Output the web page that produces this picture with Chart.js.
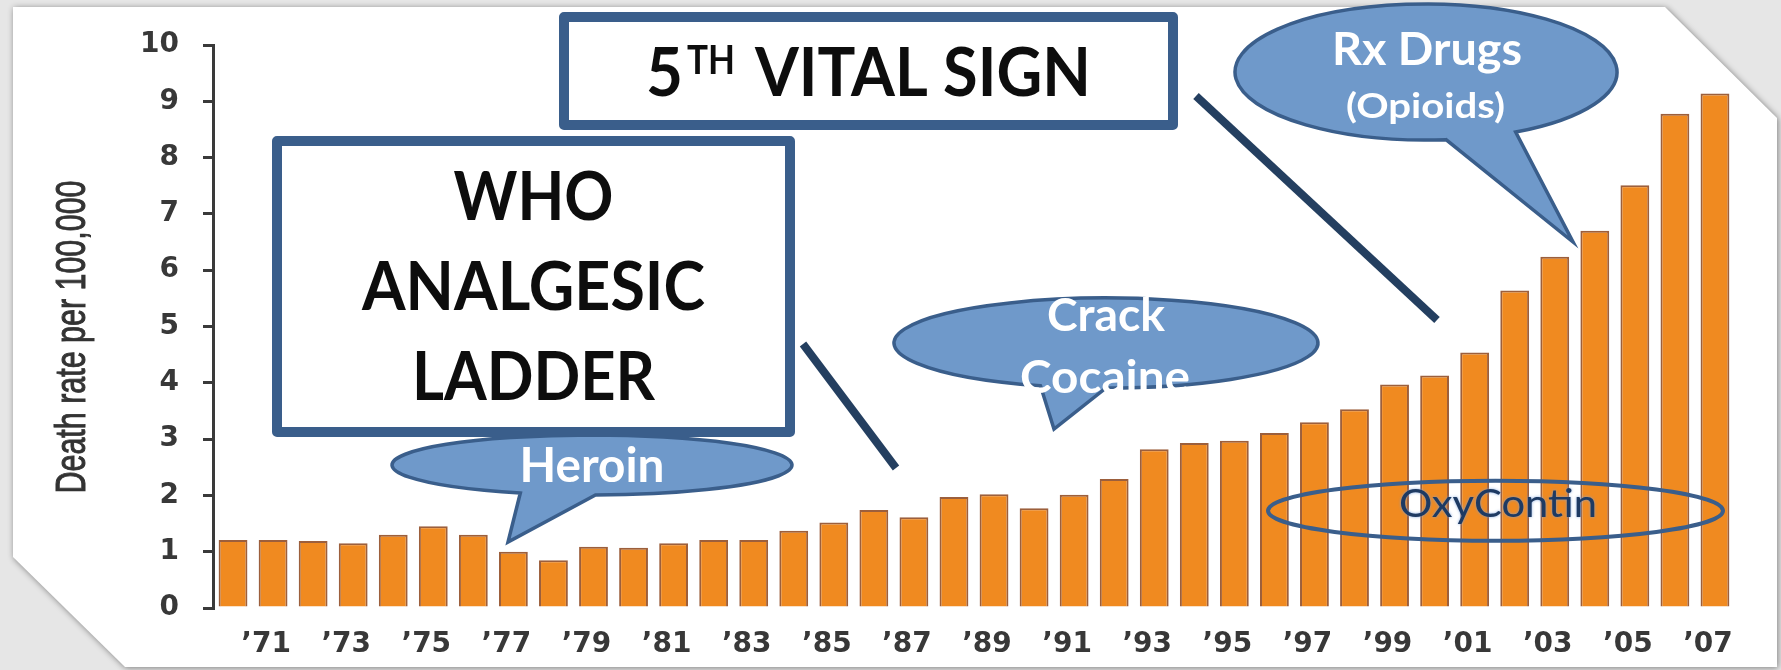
<!DOCTYPE html>
<html>
<head>
<meta charset="utf-8">
<script src="https://cdn.jsdelivr.net/npm/chart.js@4"></script>
<style>
  html, body { margin: 0; padding: 0; background: #e6e6e6; }
  canvas { display: block; }
</style>
</head>
<body>
<canvas id="myChart" width="1781" height="670"></canvas>
<script>
// overdose death rate per 100,000, 1970-2007
const years = ["’70", "’71", "’72", "’73", "’74", "’75", "’76", "’77", "’78", "’79",
  "’80", "’81", "’82", "’83", "’84", "’85", "’86", "’87", "’88", "’89",
  "’90", "’91", "’92", "’93", "’94", "’95", "’96", "’97", "’98", "’99",
  "’00", "’01", "’02", "’03", "’04", "’05", "’06", "’07"];

const deathRate = [1.21, 1.21, 1.19, 1.15, 1.30, 1.45, 1.30, 1.00, 0.85, 1.09,
  1.07, 1.15, 1.21, 1.21, 1.37, 1.52, 1.74, 1.61, 1.97, 2.02,
  1.77, 2.01, 2.29, 2.82, 2.93, 2.97, 3.11, 3.30, 3.53, 3.97,
  4.13, 4.54, 5.64, 6.24, 6.70, 7.51, 8.78, 9.14];

const yTickValues = [0, 1, 2, 3, 4, 5, 6, 7, 8, 9, 10];

const yTitle = "Death rate per 100,000";

const boxBlue = "#3a5e8b";
const calloutFill = "#6f99ca";
const lineNavy = "#243f60";

// draw text squeezed/stretched to a given width
function fitText(c, text, x, y, font, width, align, stroke) {
  c.save();
  c.font = font;
  var w = c.measureText(text).width;
  c.translate(x, y);
  c.scale(width / w, 1);
  c.textAlign = align || "center";
  c.textBaseline = "alphabetic";
  c.fillText(text, 0, 0);
  if (stroke) {
    c.lineWidth = stroke;
    c.strokeStyle = c.fillStyle;
    c.strokeText(text, 0, 0);
  }
  c.restore();
}

// ellipse speech bubble, tail between two angles
function bubble(c, cx, cy, rx, ry, aFrom, aTo, tip) {
  c.save();
  c.beginPath();
  c.ellipse(cx, cy, rx, ry, 0, aFrom * Math.PI / 180, aTo * Math.PI / 180, false);
  c.lineTo(tip[0], tip[1]);
  c.closePath();
  c.fillStyle = calloutFill;
  c.fill();
  c.lineWidth = 3.5;
  c.strokeStyle = boxBlue;
  c.stroke();
  c.restore();
}

function box(c, x1, y1, x2, y2) {
  c.save();
  c.fillStyle = "#fff";
  c.fillRect(x1, y1, x2 - x1, y2 - y1);
  c.lineWidth = 10;
  c.lineJoin = "round";
  c.strokeStyle = boxBlue;
  c.strokeRect(x1 + 5, y1 + 5, x2 - x1 - 10, y2 - y1 - 10);
  c.restore();
}

function line(c, x1, y1, x2, y2) {
  c.save();
  c.beginPath();
  c.moveTo(x1, y1);
  c.lineTo(x2, y2);
  c.lineWidth = 8;
  c.strokeStyle = lineNavy;
  c.stroke();
  c.restore();
}

const panel = {
  id: "panel",
  beforeDraw(chart) {
    var c = chart.ctx;
    c.save();
    c.fillStyle = "#e6e6e6";
    c.fillRect(0, 0, chart.width, chart.height);
    c.beginPath();
    c.moveTo(13, 7);
    c.lineTo(1665, 7);
    c.lineTo(1777, 118);
    c.lineTo(1777, 667);
    c.lineTo(125, 667);
    c.lineTo(13, 557);
    c.closePath();
    c.shadowColor = "rgba(0,0,0,0.45)";
    c.shadowBlur = 6;
    c.shadowOffsetX = 1;
    c.shadowOffsetY = 1;
    c.fillStyle = "#fff";
    c.fill();
    c.restore();

    // y axis title, narrow
    c.save();
    c.fillStyle = "#333";
    c.translate(85, 337);
    c.rotate(-Math.PI / 2);
    fitText(c, yTitle, 0, 0, "42px 'Liberation Sans Narrow', 'Liberation Sans'", 313, "center", 1);
    c.restore();
  }
};

const notes = {
  id: "notes",
  afterDraw(chart) {
    var c = chart.ctx;

    // connector lines
    line(c, 803, 344, 896, 468);
    line(c, 1196, 96, 1437, 320);

    // Heroin
    bubble(c, 592, 465, 200, 30, 111, 89, [508, 542]);
    c.fillStyle = "#fff";
    fitText(c, "Heroin", 592, 482, "bold 47px Lato", 145);

    // WHO box
    box(c, 272, 136, 795, 437);
    c.fillStyle = "#0d0d0d";
    fitText(c, "WHO", 533.5, 220, "bold 66px Lato", 160);
    fitText(c, "ANALGESIC", 533.5, 310, "bold 66px Lato", 343);
    fitText(c, "LADDER", 533.5, 400, "bold 66px Lato", 243);

    // 5th vital sign box
    box(c, 559, 12, 1178, 130);
    c.fillStyle = "#0d0d0d";
    fitText(c, "5", 646, 96, "bold 67px Lato", 37, "left");
    fitText(c, "TH", 687, 73.5, "bold 40px Lato", 48, "left");
    fitText(c, "VITAL SIGN", 755, 96, "bold 67px Lato", 336, "left");

    // Crack cocaine
    bubble(c, 1106, 343, 212, 45, 108, 90, [1054, 429]);
    c.fillStyle = "#fff";
    fitText(c, "Crack", 1106, 331, "bold 45px Lato", 118);
    fitText(c, "Cocaine", 1105, 393, "bold 45px Lato", 170);

    // Rx drugs
    bubble(c, 1426, 72, 191, 68, 84, 62, [1573, 242]);
    c.fillStyle = "#fff";
    fitText(c, "Rx Drugs", 1427, 65, "bold 46px Lato", 190);
    fitText(c, "(Opioids)", 1425.5, 118, "bold 35px Lato", 159);

    // OxyContin ring
    c.save();
    c.beginPath();
    c.ellipse(1495.5, 510.7, 227.5, 30, 0, 0, Math.PI * 2);
    c.lineWidth = 4;
    c.strokeStyle = boxBlue;
    c.stroke();
    c.shadowColor = "rgba(120,160,220,0.9)";
    c.shadowBlur = 3;
    c.fillStyle = "#1e3a62";
    fitText(c, "OxyContin", 1498, 517, "39px Lato", 198);
    c.restore();
  }
};

var ctx = document.getElementById("myChart");

new Chart(ctx, {
  type: "bar",
  data: {
    labels: years,
    datasets: [
      {
        label: "Death rate per 100,000",
        data: deathRate,
        backgroundColor: "#f08a20",
        borderColor: "#9c5f3c",
        borderWidth: 2,
        barPercentage: 0.72,
        categoryPercentage: 1.0,
      },
    ],
  },
  options: {
    responsive: false,
    animation: false,
    devicePixelRatio: 1,
    layout: { padding: { left: 100, right: 46, top: 45, bottom: 0 } },
    plugins: {
      legend: { display: false },
      tooltip: { enabled: false },
    },
    scales: {
      x: {
        grid: { display: false, drawTicks: false, tickLength: 0 },
        border: { display: false },
        ticks: {
          autoSkip: false,
          maxRotation: 0,
          minRotation: 0,
          padding: 20,
          labelOffset: -7,
          color: "#383838",
          font: { family: "'DejaVu Sans'", size: 28, weight: "bold" },
          callback: function (value, index) {
            return index % 2 === 1 ? this.getLabelForValue(value) : "";
          },
        },
        afterFit: (s) => { s.height = 62; },
      },
      y: {
        min: 0,
        max: 10,
        afterBuildTicks: (s) => { s.ticks = yTickValues.map((v) => ({ value: v })); },
        grid: { drawOnChartArea: false, drawTicks: true, tickLength: 10, color: "#3a3a3a", lineWidth: 3 },
        border: { display: true, color: "#3a3a3a", width: 3 },
        ticks: {
          padding: 24,
          color: "#383838",
          font: { family: "'DejaVu Sans'", size: 28, weight: "bold" },
        },
        afterFit: (s) => { s.width = 113; },
      },
    },
  },
  plugins: [panel, notes],
});
</script>
</body>
</html>
